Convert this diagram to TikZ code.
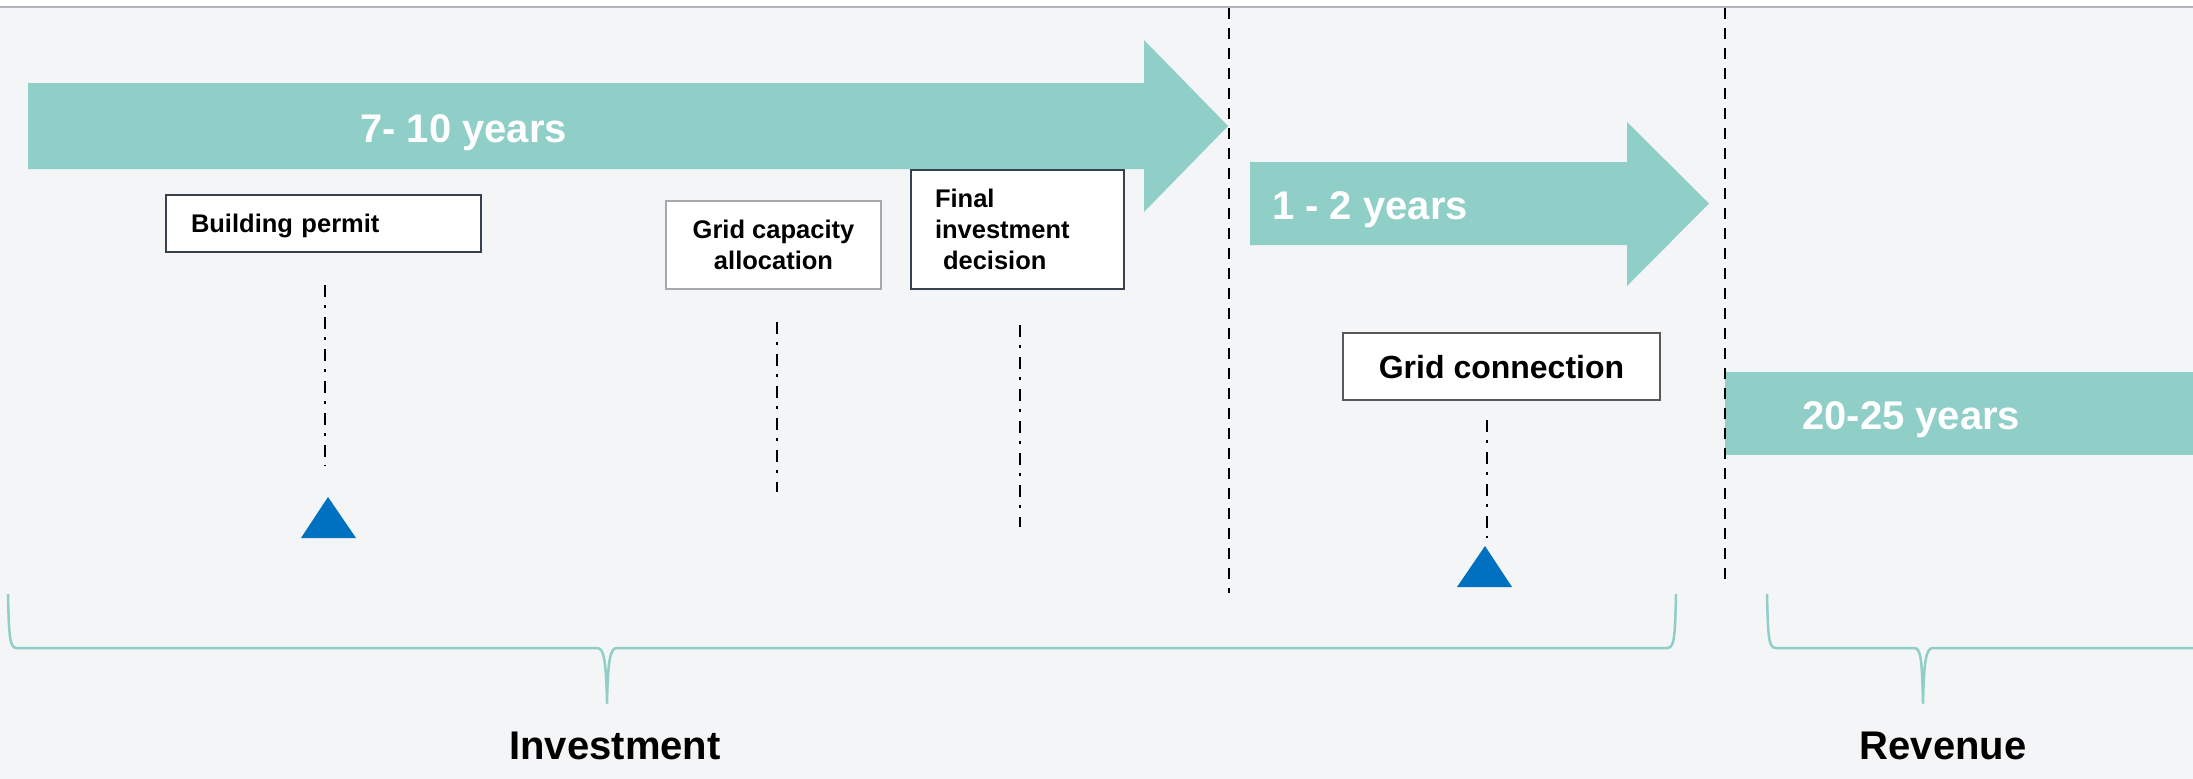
\documentclass[tikz,border=0pt]{standalone}
\usepackage{fontspec}
\setmainfont{Liberation Sans}
\definecolor{pagebg}{HTML}{F4F5F7}
\definecolor{rulegray}{HTML}{B4B6BB}
\definecolor{phase}{RGB}{144,206,200}
\definecolor{mark}{HTML}{0070C0}
\definecolor{slate}{HTML}{36424E}
\definecolor{softgray}{HTML}{A6A8AB}
\begin{document}
\begin{tikzpicture}[x=1pt,y=-1pt,
  phaselabel/.style={text=white,font=\fontsize{40}{46}\selectfont\bfseries,inner sep=0pt,anchor=base west},
  milestone/.style={fill=white,font=\fontsize{25.5}{31}\selectfont\bfseries,inner ysep=0pt,line width=2pt},
  guide/.style={line width=2pt,dash pattern=on 12pt off 8pt on 3pt off 9pt},
  divider/.style={line width=2.2pt,dash pattern=on 11pt off 9pt},
  brace/.style={draw=phase,line width=2.5pt,line join=round},
  tri/.style={fill=mark},
  section/.style={font=\fontsize{40}{46}\selectfont\bfseries,inner sep=0pt,anchor=base}]
\useasboundingbox (0,0) rectangle (2193,779);
% page background and top rule
\fill[white] (0,0) rectangle (2193,8);
\fill[pagebg] (0,8) rectangle (2193,779);
\draw[rulegray,line width=2.5pt] (0,7) -- (2193,7);

% phase arrows
\fill[phase] (28,83) -- (1144,83) -- (1144,40) -- (1228,126) -- (1144,212) -- (1144,169) -- (28,169) -- cycle;
\node[phaselabel] (p1) at (360,142) {7- 10 years};
\fill[phase] (1250,162) -- (1627,162) -- (1627,122) -- (1709,203.5) -- (1627,286) -- (1627,245) -- (1250,245) -- cycle;
\node[phaselabel] (p2) at (1272,219) {1 - 2 years};
\fill[phase] (1725,372) rectangle (2193,455);
\node[phaselabel] (p3) at (1802,429) {20-25 years};

% phase dividers
\coordinate (d1a) at (1229,8);
\coordinate (d1b) at (1229,593);
\coordinate (d2a) at (1725,8);
\coordinate (d2b) at (1725,579);
\draw[divider] (d1a) -- (d1b);
\draw[divider] (d2a) -- (d2b);

% milestone boxes
\node[milestone,draw=slate,minimum width=315pt,minimum height=57pt,text width=265pt,inner xsep=25pt,align=left,text depth=0pt]
  (bp) at (323.5,223.5) {Building permit};
\node[milestone,draw=softgray,line width=1.5pt,minimum width=215pt,minimum height=88pt,align=center]
  (gca) at (773.5,245) {Grid capacity\\allocation};
\node[milestone,draw=slate,minimum width=213pt,minimum height=119pt,text width=165pt,inner xsep=24pt,align=left]
  (fid) at (1017.5,229.5) {Final\\investment\\\hspace*{8pt}decision};
\node[milestone,draw=black!65,line width=1.8pt,minimum width=317pt,minimum height=67pt,align=center,text depth=0pt,
  font=\fontsize{32}{38}\selectfont\bfseries]
  (gc) at (1501.5,366.5) {Grid connection};

% guide lines below the milestones
\coordinate (g1a) at (325,285);  \coordinate (g1b) at (325,466);
\coordinate (g2a) at (777,322);  \coordinate (g2b) at (777,492);
\coordinate (g3a) at (1020,325); \coordinate (g3b) at (1020,527);
\coordinate (g4a) at (1487,420); \coordinate (g4b) at (1487,538);
\draw[guide] (g1a) -- (g1b);
\draw[guide] (g2a) -- (g2b);
\draw[guide] (g3a) -- (g3b);
\draw[guide] (g4a) -- (g4b);

% milestone markers
\fill[tri] (301,538) -- (328,497) -- (356,538) -- cycle;
\fill[tri] (1457,587) -- (1485,546) -- (1512,587) -- cycle;

% braces
\draw[brace] (8,594) .. controls (9,640) and (10,648) .. (17,648) -- (597,648)
  .. controls (604,648) and (606,660) .. (607,703)
  .. controls (608,660) and (610,648) .. (617,648) -- (1667,648)
  .. controls (1674,648) and (1675,640) .. (1676,594);
\draw[brace] (1767,594) .. controls (1768,640) and (1769,648) .. (1776,648) -- (1914,648)
  .. controls (1921,648) and (1922,660) .. (1923,703)
  .. controls (1924,660) and (1926,648) .. (1933,648) -- (2194,648);

% section labels
\node[section] (inv) at (615,759) {Investment};
\node[section] (rev) at (1943,759) {Revenue};
\end{tikzpicture}
\end{document}
